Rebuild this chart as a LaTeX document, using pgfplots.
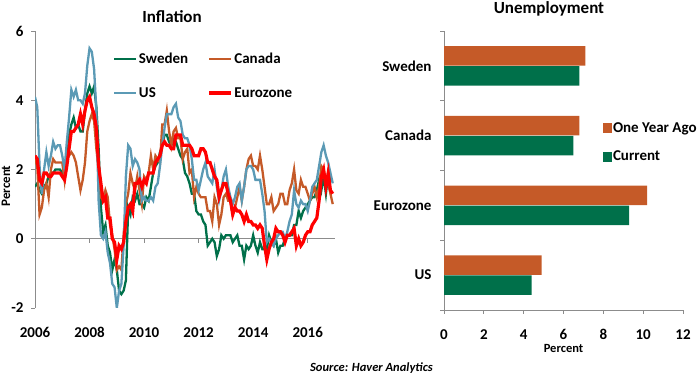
\documentclass[border=0pt]{standalone}
\usepackage{fontspec}
\setmainfont{Carlito}
\usepackage{pgfplots}
\pgfplotsset{compat=1.18}
\usepackage{pgfplotstable}

\definecolor{sgreen}{HTML}{00704A}
\definecolor{corange}{HTML}{C55A28}
\definecolor{usblue}{HTML}{5B9AB5}
\definecolor{ezred}{HTML}{FF0000}
\definecolor{axgray}{HTML}{8C8C8C}

\newcommand{\tickfont}{\fontsize{15bp}{18bp}\selectfont\bfseries}
\newcommand{\titlefont}{\fontsize{17bp}{20bp}\selectfont\bfseries}
\newcommand{\smallfont}{\fontsize{12.5bp}{15bp}\selectfont\bfseries}

% month-by-month inflation, % y/y
\pgfplotstableread{
t        S     C     U     E
2006.000 1.5   2.3   4.1   2.4
2006.083 1.6   2.1   3.8   2.3
2006.167 1.4   0.7   2.1   1.7
2006.250 1.3   0.9   1.3   1.6
2006.333 1.5   1.4   2.0   1.9
2006.417 1.6   1.6   2.5   1.9
2006.500 1.8   1.2   2.1   1.8
2006.583 1.9   2.0   2.4   1.8
2006.667 1.9   2.3   2.8   1.9
2006.750 2.0   2.2   2.6   1.9
2006.833 2.0   2.2   2.7   1.9
2006.917 2.0   2.2   2.7   1.9
2007.000 1.9   2.2   2.4   1.8
2007.083 2.0   1.7   2.0   1.7
2007.167 2.5   2.5   2.8   2.1
2007.250 3.0   2.4   3.5   2.6
2007.333 3.3   2.5   4.3   3.1
2007.417 3.5   2.4   4.1   3.1
2007.500 3.2   2.2   4.3   3.2
2007.583 3.3   1.8   4.0   3.3
2007.667 3.1   1.4   4.0   3.6
2007.750 3.1   1.7   3.9   3.3
2007.833 3.7   2.2   4.2   3.7
2007.917 4.2   3.1   5.0   4.0
2008.000 4.4   3.4   5.5   4.1
2008.083 4.2   3.6   5.4   3.8
2008.167 4.4   3.4   4.9   3.6
2008.250 3.8   2.6   3.7   3.2
2008.333 2.6   2.0   1.1   2.1
2008.417 0.9   1.2   0.1   1.6
2008.500 0.2   1.1   0.0   1.1
2008.583 0.4   1.4   0.2   1.2
2008.667 -0.2  1.2   -0.4  0.6
2008.750 -0.4  0.4   -0.7  0.6
2008.833 -0.9  0.1   -1.3  0.0
2008.917 -0.6  -0.3  -1.4  -0.1
2009.000 -0.9  -0.9  -2.0  -0.6
2009.083 -1.5  -0.8  -1.5  -0.2
2009.167 -1.6  -0.9  -1.3  -0.3
2009.250 -1.5  0.1   -0.2  -0.1
2009.333 -1.2  1.0   1.8   0.5
2009.417 0.9   1.3   2.7   0.9
2009.500 0.7   1.9   2.6   1.0
2009.583 1.2   1.6   2.1   0.8
2009.667 1.1   1.4   2.3   1.6
2009.750 1.3   1.8   2.2   1.6
2009.833 1.0   1.4   2.0   1.7
2009.917 1.0   1.0   1.1   1.5
2010.000 0.9   1.8   1.2   1.7
2010.083 1.2   1.7   1.1   1.6
2010.167 1.1   1.9   1.1   1.9
2010.250 1.5   2.4   1.2   1.9
2010.333 1.9   2.0   1.1   1.9
2010.417 2.1   2.4   1.5   2.2
2010.500 2.2   2.3   1.6   2.3
2010.583 2.5   2.2   2.1   2.4
2010.667 2.7   3.3   2.7   2.7
2010.750 3.0   3.3   3.2   2.8
2010.833 3.0   3.7   3.6   2.7
2010.917 2.8   3.1   3.6   2.7
2011.000 2.7   2.7   3.6   2.6
2011.083 2.9   3.1   3.8   2.6
2011.167 2.8   3.2   3.9   3.0
2011.250 2.6   2.9   3.5   3.0
2011.333 2.4   2.9   3.4   3.0
2011.417 2.3   2.3   3.0   2.7
2011.500 1.9   2.5   2.9   2.7
2011.583 1.8   2.6   2.9   2.7
2011.667 1.6   1.9   2.7   2.7
2011.750 1.3   2.0   2.3   2.6
2011.833 1.3   1.2   1.7   2.4
2011.917 0.8   1.5   1.7   2.4
2012.000 0.7   1.3   1.4   2.4
2012.083 0.7   1.2   1.7   2.6
2012.167 0.5   1.2   2.0   2.6
2012.250 0.4   1.2   2.2   2.5
2012.333 -0.2  0.8   1.8   2.2
2012.417 -0.1  0.8   1.7   2.2
2012.500 0.0   0.5   1.6   2.0
2012.583 -0.1  1.2   2.0   1.8
2012.667 -0.5  1.0   1.5   1.7
2012.750 -0.3  0.4   1.1   1.2
2012.833 0.1   0.7   1.4   1.4
2012.917 0.0   1.2   1.8   1.6
2013.000 0.1   1.3   2.0   1.6
2013.083 0.1   1.1   1.5   1.3
2013.167 0.1   1.1   1.2   1.1
2013.250 -0.1  0.7   1.0   0.7
2013.333 0.0   0.9   1.2   0.9
2013.417 0.1   1.2   1.5   0.8
2013.500 -0.2  1.5   1.6   0.8
2013.583 -0.2  1.1   1.1   0.7
2013.667 -0.6  1.5   1.5   0.5
2013.750 -0.2  2.0   2.0   0.7
2013.833 -0.3  2.3   2.1   0.5
2013.917 -0.2  2.4   2.1   0.5
2014.000 0.1   2.1   2.0   0.4
2014.083 -0.2  2.1   1.7   0.4
2014.167 -0.4  2.0   1.7   0.3
2014.250 -0.1  2.4   1.7   0.4
2014.333 -0.3  2.0   1.3   0.3
2014.417 -0.3  1.5   0.8   -0.2
2014.500 -0.3  1.0   -0.1  -0.6
2014.583 0.1   1.0   0.0   -0.3
2014.667 -0.1  1.2   -0.1  -0.1
2014.750 -0.2  0.8   -0.2  0.0
2014.833 0.0   0.9   0.0   0.3
2014.917 -0.4  1.0   0.1   0.2
2015.000 -0.2  1.3   0.2   0.2
2015.083 -0.2  1.3   0.2   0.1
2015.167 0.0   1.0   0.0   -0.1
2015.250 0.1   1.0   0.2   0.1
2015.333 0.1   1.4   0.5   0.1
2015.417 0.1   1.6   0.7   0.2
2015.500 0.4   2.0   1.4   0.3
2015.583 0.4   1.4   1.0   -0.2
2015.667 0.8   1.3   0.9   0.0
2015.750 0.6   1.7   1.1   -0.2
2015.833 0.8   1.5   1.0   -0.1
2015.917 0.9   1.5   1.0   0.1
2016.000 1.0   1.3   0.8   0.2
2016.083 1.1   1.1   1.1   0.2
2016.167 1.2   1.3   1.5   0.4
2016.250 1.2   1.5   1.6   0.5
2016.333 1.4   1.2   1.7   0.6
2016.417 1.7   1.5   2.1   1.1
2016.500 1.4   2.1   2.5   1.8
2016.583 1.8   2.0   2.7   2.0
2016.667 1.3   1.6   2.4   1.5
2016.750 1.9   1.6   2.2   1.9
2016.833 1.7   1.3   1.9   1.4
2016.917 1.7   1.0   1.6   1.3
}\inflation

\begin{document}
\begin{tikzpicture}[x=1bp,y=1bp]
\path[use as bounding box] (0bp,0bp) rectangle (700bp,380bp);

% zero line with its ticks (behind the data)
\begin{axis}[
  scale only axis, width=300bp, height=277bp,
  at={(35bp,72bp)}, anchor=south west,
  xmin=2006, xmax=2017, ymin=-2, ymax=6,
  axis x line=middle, axis y line=none,
  axis line style={-, draw=axgray, line width=0.8bp},
  xtick={2006,2008,...,2016}, xticklabels={}, ytick=\empty,
  tick align=outside, major tick length=4bp,
  xtick style={draw=axgray, line width=0.8bp},
]
\end{axis}

% Inflation
\begin{axis}[
  scale only axis, width=300bp, height=277bp,
  at={(35bp,72bp)}, anchor=south west,
  xmin=2006, xmax=2017, ymin=-2, ymax=6,
  axis x line*=bottom, axis y line*=left,
  x axis line style={draw=none},
  y axis line style={draw=axgray, line width=0.8bp},
  xtick={2006,2008,...,2016}, ytick={-2,0,...,6},
  xtick style={draw=none},
  ytick style={draw=axgray, line width=0.8bp},
  tick align=outside, major tick length=4bp,
  ticklabel style={font=\tickfont},
  xticklabel style={yshift=-12bp},
  yticklabel style={xshift=-4bp},
  /pgf/number format/assume math mode=true,
  /pgf/number format/1000 sep={},
  ylabel={Percent},
  ylabel style={font=\fontsize{13bp}{15bp}\selectfont\bfseries, at={(axis description cs:-0.083,0.44)}, anchor=base},
  legend columns=2,
  legend style={at={(axis description cs:0.25,0.933)}, anchor=north west,
    draw=none, fill=none, font=\tickfont, row sep=19bp,
    nodes={inner sep=1.5bp},
    /tikz/every even column/.append style={column sep=18bp}},
  legend cell align=left,
  legend image code/.code={\draw[#1] (0bp,0bp) -- (22bp,0bp);},
]
\addplot[sgreen, line width=2.3bp] table[x=t, y=S] {\inflation};
\addlegendentry{Sweden}
\addplot[corange, line width=2.3bp] table[x=t, y=C] {\inflation};
\addlegendentry{Canada}
\addplot[usblue, line width=2.3bp] table[x=t, y=U] {\inflation};
\addlegendentry{US}
\addplot[ezred, line width=3.2bp] table[x=t, y=E] {\inflation};
\addlegendentry{Eurozone}
\end{axis}

% Unemployment
\begin{axis}[
  scale only axis, width=239bp, height=279bp,
  at={(444bp,70bp)}, anchor=south west,
  xbar, bar width=19.5bp,
  xmin=0, xmax=12, ymin=-0.5, ymax=3.5,
  axis x line*=bottom, axis y line*=left,
  axis line style={draw=axgray, line width=0.8bp},
  xtick={0,2,...,12},
  ytick={-0.5,0.5,1.5,2.5,3.5}, yticklabels={},
  extra y ticks={0,1,2,3},
  extra y tick labels={US,Eurozone,Canada,Sweden},
  extra y tick style={major tick length=0bp},
  tick style={draw=axgray, line width=0.8bp},
  tick align=outside, major tick length=4bp,
  ticklabel style={font=\tickfont},
  xticklabel style={yshift=-12bp},
  yticklabel style={xshift=-9bp},
  /pgf/number format/assume math mode=true,
  xlabel={Percent},
  xlabel style={font=\smallfont, at={(axis description cs:0.5,-0.151)}, anchor=base},
  legend style={at={(axis description cs:0.65,0.685)}, anchor=north west,
    draw=none, fill=none, font=\tickfont, row sep=14bp,
    nodes={inner sep=1.5bp}},
  legend cell align=left,
  legend image code/.code={\fill[#1] (0bp,-5bp) rectangle (9bp,5bp);},
]
\addplot[fill=corange, draw=none, bar shift=9.9bp] coordinates {(4.9,0) (10.2,1) (6.8,2) (7.1,3)};
\addlegendentry{One Year Ago}
\addplot[fill=sgreen, draw=none, bar shift=-9.9bp] coordinates {(4.4,0) (9.3,1) (6.5,2) (6.8,3)};
\addlegendentry{Current}
\end{axis}

\node[font=\titlefont, anchor=base] at (172bp,357bp) {Inflation};
\node[font=\titlefont, anchor=base] at (549bp,366bp) {Unemployment};
\node[font=\fontsize{12.5bp}{15bp}\selectfont\bfseries\itshape, anchor=base] at (371.5bp,9bp) {Source: Haver Analytics};
\end{tikzpicture}
\end{document}
